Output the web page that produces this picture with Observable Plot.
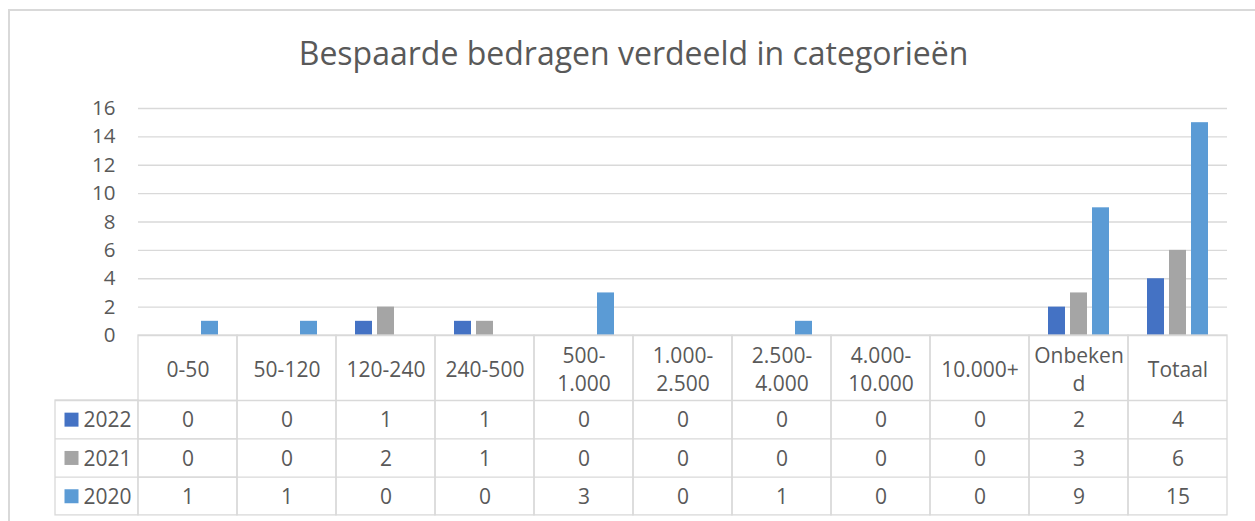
<!DOCTYPE html>
<html><head><meta charset="utf-8">
<script src="https://cdn.jsdelivr.net/npm/d3@7"></script>
<script src="https://cdn.jsdelivr.net/npm/@observablehq/plot@0.6"></script>
<style>
body{margin:0;background:#fff;font-family:"Open Sans",sans-serif;}
#wrap{position:relative;width:1255px;height:521px;overflow:hidden;background:#fff;}
#border{position:absolute;left:8px;top:9px;width:1300px;height:600px;border-left:2px solid #d9d9d9;border-top:2px solid #d9d9d9;}
#title{position:absolute;left:9px;width:1249px;top:36.5px;text-align:center;font-size:32px;line-height:1;color:#595959;white-space:nowrap;}
#chart{position:absolute;left:0;top:80px;}
</style></head><body>
<div id="wrap"><div id="border"></div><div id="title">Bespaarde bedragen verdeeld in categorieën</div><div id="chart"></div></div>
<script>
const categories = ["0-50","50-120","120-240","240-500","500-1.000","1.000-2.500","2.500-4.000","4.000-10.000","10.000+","Onbekend","Totaal"];
const categoryLabels = ["0-50","50-120","120-240","240-500","500-\n1.000","1.000-\n2.500","2.500-\n4.000","4.000-\n10.000","10.000+","Onbeken\nd","Totaal"];
const years = ["2022","2021","2020"];
const values2022 = [0,0,1,1,0,0,0,0,0,2,4];
const values2021 = [0,0,2,1,0,0,0,0,0,3,6];
const values2020 = [1,1,0,0,3,0,1,0,0,9,15];
const yearColors = ["#4472C4","#A5A5A5","#5B9BD5"];
const yTicks = [0,2,4,6,8,10,12,14,16];

const series = {"2022": values2022, "2021": values2021, "2020": values2020};
const data = years.flatMap(y => categories.map((c, i) => ({category: c, year: y, value: series[y][i]})));

const W = 1255, H = 441, mL = 137, mR = 28, mT = 28, mB = 186;
const plotH = H - mT - mB;
const facetW = (W - mL - mR) / categories.length;
const headerH = 65, rowH = 38.3, legendW = 83;
const lineColor = "#d9d9d9", textColor = "#595959";
const tableFont = 21;
const tableBottom = headerH + years.length * rowH;

const marks = [
  Plot.gridY(yTicks, {stroke: lineColor, strokeOpacity: 1, strokeWidth: 1.3}),
  Plot.axisY(yTicks, {tickSize: 0, tickPadding: 23, fontSize: 20.5, label: null, fill: textColor}),
  Plot.barY(data, {fx: "category", x: "year", y: "value", fill: "year"}),
  // table column boxes
  Plot.rect(categories, {fx: d => d, insetTop: plotH, insetBottom: -tableBottom, fill: "none", stroke: lineColor, strokeWidth: 1.3}),
  // legend column box
  Plot.rect([categories[0]], {fx: d => d, insetTop: plotH + headerH, insetBottom: -tableBottom, insetLeft: -legendW, insetRight: facetW, fill: "none", stroke: lineColor, strokeWidth: 1.3}),
  // header labels
  Plot.text(categories, {fx: d => d, text: (d, i) => categoryLabels[i], frameAnchor: "bottom", dy: headerH / 2, lineAnchor: "middle", lineHeight: 1.35, fontSize: tableFont, fill: textColor})
];
for (let k = 0; k < years.length; k++) {
  const y = years[k];
  const rowTop = headerH + k * rowH;
  const rowMid = rowTop + rowH / 2 + 1;
  marks.push(Plot.ruleY(categories, {fx: d => d, y: () => 0, dy: rowTop, stroke: lineColor, strokeWidth: 1.3}));
  marks.push(Plot.ruleY([categories[0]], {fx: d => d, y: () => 0, dy: rowTop, insetLeft: -legendW, stroke: lineColor, strokeWidth: 1.3}));
  marks.push(Plot.text(data.filter(d => d.year === y), {fx: "category", text: "value", frameAnchor: "bottom", dy: rowMid, lineAnchor: "middle", fontSize: tableFont, fill: textColor}));
  marks.push(Plot.dot([y], {fx: () => categories[0], frameAnchor: "bottom-left", dx: -67, dy: rowMid - 1, symbol: "square", r: 7.9, fill: d => d}));
  marks.push(Plot.text([y], {fx: () => categories[0], text: d => d, frameAnchor: "bottom-left", textAnchor: "start", dx: -55, dy: rowMid, lineAnchor: "middle", fontSize: tableFont, fill: textColor}));
}

const chart = Plot.plot({
  width: W, height: H,
  marginLeft: mL, marginRight: mR, marginTop: mT, marginBottom: mB,
  style: {fontFamily: "'Open Sans', sans-serif", fontSize: "20px", color: textColor, background: "transparent", overflow: "visible"},
  fx: {domain: categories, padding: 0, axis: null},
  x: {domain: years, paddingInner: 0.2444, paddingOuter: 0.824, axis: null},
  y: {domain: [0, 16]},
  color: {domain: years, range: yearColors},
  marks
});
document.getElementById("chart").appendChild(chart);
</script>
</body></html>
